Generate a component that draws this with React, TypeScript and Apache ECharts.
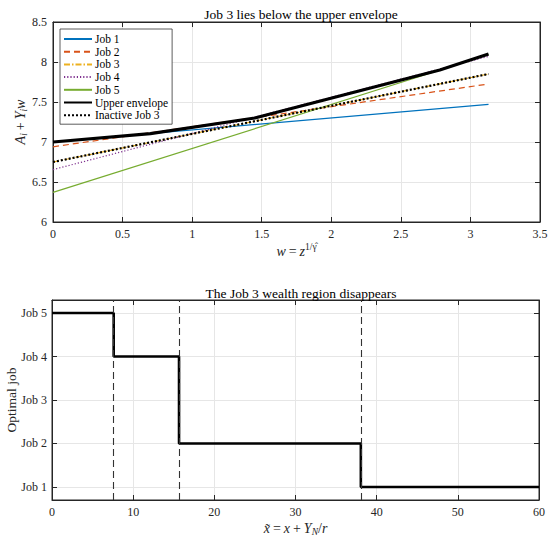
import React, { useEffect, useRef } from "react";
import * as echarts from "echarts";

// ---- Top panel data (w on x axis, A_i + Y_i w on y axis)
const wEnds = [0, 3.13];
const job1 = [7.0, 7.47];
const job2 = [6.94, 7.725];
const job3 = [6.75, 7.85];
const job4 = [6.655, 8.07];
const job5 = [6.37, 8.09];
const envelopeW = [0, 0.7, 1.45, 2.78, 3.13];
const envelopeV = [7.0, 7.105, 7.3, 7.9, 8.1];
const jobNames = ["Job 1", "Job 2", "Job 3", "Job 4", "Job 5"];

// ---- Bottom panel data
const stepX = [0, 7.6, 15.65, 38.05, 60];
const stepJob = [5, 4, 2, 1, 1];
const thresholds = [7.6, 15.65, 38.05];
const jobTickLabels = ["Job 1", "Job 2", "Job 3", "Job 4", "Job 5"];

const FONT = "Liberation Serif";
const AX = "#262626";
const GRIDC = "#e6e6e6";

const pairs = (xs: number[], ys: number[]) => xs.map((x, i) => [x, ys[i]]);

export default function App() {
  const ref = useRef<HTMLDivElement>(null);
  useEffect(() => {
    if (!ref.current) return;
    const chart = echarts.init(ref.current, undefined, { renderer: "svg" });

    const rich = {
      it: { fontFamily: FONT, fontStyle: "italic", fontSize: 14, color: AX },
      n: { fontFamily: FONT, fontSize: 14, color: AX },
      subn: { fontFamily: FONT, fontStyle: "italic", fontSize: 9.5, color: AX, padding: [7, 0, 0, 0] },
      sup: { fontFamily: FONT, fontSize: 9.5, color: AX, padding: [0, 0, 8, 0] },
    };

    const baseX = (grid: number, min: number, max: number, interval: number, pos: "bottom" | "top", main: boolean) => ({
      type: "value",
      gridIndex: grid,
      min,
      max,
      interval,
      position: pos,
      nameMoveOverlap: false,
      axisLine: { show: true, onZero: false, lineStyle: { color: AX, width: 1 } },
      axisTick: { show: true, inside: true, length: 5, lineStyle: { color: AX } },
      axisLabel: main
        ? { show: true, fontFamily: FONT, fontSize: 12, color: AX, margin: 6 }
        : { show: false },
      splitLine: { show: main, lineStyle: { color: GRIDC, width: 1 } },
    });

    const option: any = {
      animation: false,
      backgroundColor: "#ffffff",
      textStyle: { fontFamily: FONT },
      title: [
        {
          text: "Job 3 lies below the upper envelope",
          left: 296,
          top: 2,
          textAlign: "center",
          textStyle: { fontFamily: FONT, fontSize: 13.5, fontWeight: "normal", color: "#000" },
        },
        {
          text: "The Job 3 wealth region disappears",
          left: 296,
          top: 281,
          textAlign: "center",
          textStyle: { fontFamily: FONT, fontSize: 13.5, fontWeight: "normal", color: "#000" },
        },
      ],
      grid: [
        { left: 53, top: 22, width: 487, height: 200, show: true, borderColor: AX, borderWidth: 1, backgroundColor: "transparent", outerBoundsMode: "none", containLabel: false },
        { left: 52, top: 300, width: 487, height: 200, show: true, borderColor: AX, borderWidth: 1, backgroundColor: "transparent", outerBoundsMode: "none", containLabel: false },
      ],
      legend: {
        show: true,
        orient: "vertical",
        left: 60,
        top: 29,
        padding: [4, 4, 3, 3],
        itemWidth: 28,
        itemHeight: 8,
        itemGap: 0.7,
        backgroundColor: "#ffffff",
        borderColor: "#333",
        borderWidth: 0.8,
        itemStyle: { opacity: 0, borderWidth: 0 },
        textStyle: { fontFamily: FONT, fontSize: 11.5, color: "#000", lineHeight: 12, padding: [0, 0, 0, -2] },
        data: [...jobNames, "Upper envelope", "Inactive Job 3"],
      },
      xAxis: [
        {
          ...baseX(0, 0, 3.5, 0.5, "bottom", true),
          name: "{it|w} {n|=} {it|z}{sup|1/γ̂}",
          nameLocation: "middle",
          nameGap: 20,
          nameTextStyle: { rich },
        },
        baseX(0, 0, 3.5, 0.5, "top", false),
        {
          ...baseX(1, 0, 60, 10, "bottom", true),
          name: "{it|x̃} {n|=} {it|x} {n|+} {it|Y}{subn|N}{n|/}{it|r}",
          nameLocation: "middle",
          nameGap: 20,
          nameTextStyle: { rich },
        },
        baseX(1, 0, 60, 10, "top", false),
      ],
      yAxis: [
        {
          ...baseX(0, 6, 8.5, 0.5, "bottom", true),
          position: "left",
          name: "{it|A}{subn|i} {n|+} {it|Y}{subn|i}{it|w}",
          nameLocation: "middle",
          nameGap: 24,
          nameTextStyle: { rich },
        },
        { ...baseX(0, 6, 8.5, 0.5, "bottom", false), position: "right" },
        {
          type: "value",
          gridIndex: 1,
          min: 0.7,
          max: 5.3,
          position: "left",
          nameMoveOverlap: false,
          axisLine: { show: true, onZero: false, lineStyle: { color: AX } },
          axisTick: { show: true, inside: true, length: 5, lineStyle: { color: AX } },
          axisLabel: {
            show: true,
            fontFamily: FONT,
            fontSize: 12,
            color: AX,
            margin: 5,
            formatter: (v: number) => {
              const i = Math.round(v);
              return Math.abs(v - i) < 1e-6 && i >= 1 && i <= 5 ? jobTickLabels[i - 1] : "";
            },
          },
          splitLine: { show: true, lineStyle: { color: GRIDC } },
          name: "Optimal job",
          nameLocation: "middle",
          nameGap: 34,
          nameTextStyle: { fontFamily: FONT, fontSize: 13.5, color: AX },
        },
        {
          type: "value",
          gridIndex: 1,
          min: 0.7,
          max: 5.3,
          position: "right",
          axisLine: { show: true, onZero: false, lineStyle: { color: AX } },
          axisTick: { show: true, inside: true, length: 5, lineStyle: { color: AX } },
          axisLabel: { show: false },
          splitLine: { show: false },
        },
      ],
      series: [
        {
          name: "Job 1", type: "line", xAxisIndex: 0, yAxisIndex: 0, data: pairs(wEnds, job1),
          showSymbol: false, symbol: "none", lineStyle: { color: "#0072BD", width: 1.2, type: "solid" }, itemStyle: { color: "#0072BD" },
        },
        {
          name: "Job 2", type: "line", xAxisIndex: 0, yAxisIndex: 0, data: pairs(wEnds, job2),
          showSymbol: false, symbol: "none", lineStyle: { color: "#D95319", width: 1.2, type: [6, 4] }, itemStyle: { color: "#D95319" },
        },
        {
          name: "Job 3", type: "line", xAxisIndex: 0, yAxisIndex: 0, data: pairs(wEnds, job3),
          showSymbol: false, symbol: "none", lineStyle: { color: "#EDB120", width: 1.2, type: [6, 2, 1.5, 2] }, itemStyle: { color: "#EDB120" },
        },
        {
          name: "Job 4", type: "line", xAxisIndex: 0, yAxisIndex: 0, data: pairs(wEnds, job4),
          showSymbol: false, symbol: "none", lineStyle: { color: "#7E2F8E", width: 1.2, type: [1.2, 2] }, itemStyle: { color: "#7E2F8E" },
        },
        {
          name: "Job 5", type: "line", xAxisIndex: 0, yAxisIndex: 0, data: pairs(wEnds, job5),
          showSymbol: false, symbol: "none", lineStyle: { color: "#77AC30", width: 1.2, type: "solid" }, itemStyle: { color: "#77AC30" },
        },
        {
          name: "Upper envelope", type: "line", xAxisIndex: 0, yAxisIndex: 0, data: pairs(envelopeW, envelopeV),
          showSymbol: false, symbol: "none", lineStyle: { color: "#000", width: 3.2, type: "solid" }, itemStyle: { color: "#000" },
        },
        {
          name: "Inactive Job 3", type: "line", xAxisIndex: 0, yAxisIndex: 0, data: pairs(wEnds, job3),
          showSymbol: false, symbol: "none", lineStyle: { color: "#000", width: 2.2, type: [2, 2] }, itemStyle: { color: "#000" },
        },
        {
          name: "Optimal", type: "line", xAxisIndex: 2, yAxisIndex: 2, data: pairs(stepX, stepJob),
          step: "end", showSymbol: false, symbol: "none", lineStyle: { color: "#000", width: 2.6 },
          markLine: {
            silent: true,
            symbol: ["none", "none"],
            label: { show: false },
            lineStyle: { color: "#333", width: 1.1, type: [7, 4] },
            data: thresholds.map((t) => ({ xAxis: t })),
          },
        },
      ],
    };
    chart.setOption(option);
    return () => chart.dispose();
  }, []);
  return <div ref={ref} style={{ position: "fixed", left: 0, top: 0, width: 550, height: 539, background: "#fff" }} />;
}
